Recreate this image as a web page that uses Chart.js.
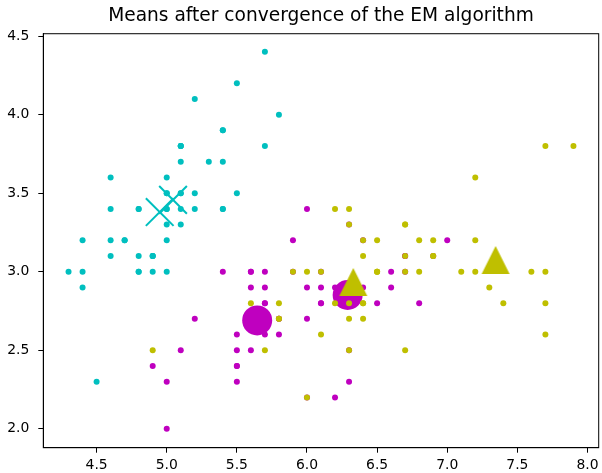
<!DOCTYPE html>
<html>
<head>
<meta charset="utf-8">
<script src="https://cdn.jsdelivr.net/npm/chart.js@4/dist/chart.umd.min.js"></script>
<style>
  html, body { margin: 0; padding: 0; background: #fff; }
  #wrap { width: 602px; height: 473px; }
</style>
</head>
<body>
<div id="wrap"><canvas id="em-means" width="602" height="473"></canvas></div>
<script>
// iris sepal length / sepal width, one pair of arrays per species
const setosaLength = [5.1,4.9,4.7,4.6,5.0,5.4,4.6,5.0,4.4,4.9,5.4,4.8,4.8,4.3,5.8,5.7,5.4,5.1,5.7,5.1,
    5.4,5.1,4.6,5.1,4.8,5.0,5.0,5.2,5.2,4.7,4.8,5.4,5.2,5.5,4.9,5.0,5.5,4.9,4.4,5.1,
    5.0,4.5,4.4,5.0,5.1,4.8,5.1,4.6,5.3,5.0];
const setosaWidth = [3.5,3.0,3.2,3.1,3.6,3.9,3.4,3.4,2.9,3.1,3.7,3.4,3.0,3.0,4.0,4.4,3.9,3.5,3.8,3.8,
    3.4,3.7,3.6,3.3,3.4,3.0,3.4,3.5,3.4,3.2,3.1,3.4,4.1,4.2,3.1,3.2,3.5,3.1,3.0,3.4,
    3.5,2.3,3.2,3.5,3.8,3.0,3.8,3.2,3.7,3.3];
const versicolorLength = [7.0,6.4,6.9,5.5,6.5,5.7,6.3,4.9,6.6,5.2,5.0,5.9,6.0,6.1,5.6,6.7,5.6,5.8,6.2,5.6,
    5.9,6.1,6.3,6.1,6.4,6.6,6.8,6.7,6.0,5.7,5.5,5.5,5.8,6.0,5.4,6.0,6.7,6.3,5.6,5.5,
    5.5,6.1,5.8,5.0,5.6,5.7,5.7,6.2,5.1,5.7];
const versicolorWidth = [3.2,3.2,3.1,2.3,2.8,2.8,3.3,2.4,2.9,2.7,2.0,3.0,2.2,2.9,2.9,3.1,3.0,2.7,2.2,2.5,
    3.2,2.8,2.5,2.8,2.9,3.0,2.8,3.0,2.9,2.6,2.4,2.4,2.7,2.7,3.0,3.4,3.1,2.3,3.0,2.5,
    2.6,3.0,2.6,2.3,2.7,3.0,2.9,2.9,2.5,2.8];
const virginicaLength = [6.3,5.8,7.1,6.3,6.5,7.6,4.9,7.3,6.7,7.2,6.5,6.4,6.8,5.7,5.8,6.4,6.5,7.7,7.7,6.0,
    6.9,5.6,7.7,6.3,6.7,7.2,6.2,6.1,6.4,7.2,7.4,7.9,6.4,6.3,6.1,7.7,6.3,6.4,6.0,6.9,
    6.7,6.9,5.8,6.8,6.7,6.7,6.3,6.5,6.2,5.9];
const virginicaWidth = [3.3,2.7,3.0,2.9,3.0,3.0,2.5,2.9,2.5,3.6,3.2,2.7,3.0,2.5,2.8,3.2,3.0,3.8,2.6,2.2,
    3.2,2.8,2.8,2.7,3.3,3.2,2.8,3.0,2.8,3.0,2.8,3.8,2.8,2.8,2.6,3.0,3.4,3.1,3.0,3.1,
    3.1,3.1,2.7,3.2,3.3,3.0,2.5,3.0,3.4,3.0];

// component means found by EM (two per component)
const meansSetosaX = [4.95, 5.045];
const meansSetosaY = [3.38, 3.457];
const meansVersicolorX = [5.645, 6.29];
const meansVersicolorY = [2.69, 2.852];
const meansVirginicaX = [6.33, 7.345];
const meansVirginicaY = [2.935, 3.075];

const xTicks = [4.5, 5.0, 5.5, 6.0, 6.5, 7.0, 7.5, 8.0];
const yTicks = [2.0, 2.5, 3.0, 3.5, 4.0, 4.5];

const CYAN = '#00bfbf';
const MAGENTA = '#bf00bf';
const YELLOW = '#bfbf00';

const toPoints = (xs, ys) => xs.map((x, i) => ({ x: x, y: ys[i] }));

// matplotlib style '^' marker (as wide as it is tall)
function triangleMarker(size, color) {
    const c = document.createElement('canvas');
    c.width = size;
    c.height = size;
    const ctx = c.getContext('2d');
    ctx.fillStyle = color;
    ctx.beginPath();
    ctx.moveTo(size / 2, 1);
    ctx.lineTo(size - 1, size - 1);
    ctx.lineTo(1, size - 1);
    ctx.closePath();
    ctx.fill();
    return c;
}

// closes the axes box on the top and right sides
const frame = {
    id: 'frame',
    afterDraw(chart) {
        const a = chart.chartArea;
        const ctx = chart.ctx;
        ctx.save();
        ctx.strokeStyle = '#000';
        ctx.lineWidth = 1;
        ctx.strokeRect(a.left, a.top, a.right - a.left, a.bottom - a.top);
        ctx.restore();
    }
};

function pointSet(xs, ys, color, order) {
    return {
        data: toPoints(xs, ys),
        backgroundColor: color,
        borderWidth: 0,
        pointRadius: 3,
        pointHoverRadius: 3,
        order: order
    };
}

function axis(ticks, fitKey, fitValue) {
    return {
        type: 'linear',
        afterBuildTicks: (scale) => { scale.ticks = ticks.map(v => ({ value: v })); },
        afterFit: (scale) => {
            scale[fitKey] = fitValue;
            // tick labels may hang past the axes box, as in matplotlib
            scale.paddingLeft = 0;
            scale.paddingRight = 0;
            scale.paddingTop = 0;
            scale.paddingBottom = 0;
        },
        grid: {
            display: true,
            drawOnChartArea: false,
            drawTicks: true,
            tickLength: 5,
            tickWidth: 1,
            color: '#000'
        },
        border: { display: true, color: '#000', width: 1 },
        ticks: {
            color: '#000',
            padding: 4,
            font: { family: 'DejaVu Sans', size: 13.9 },
            callback: (v) => Number(v).toFixed(1)
        }
    };
}

const xAxis = axis(xTicks, 'height', 25.3);
xAxis.min = 4.12;
xAxis.max = 8.08;
xAxis.position = 'bottom';
const yAxis = axis(yTicks, 'width', 43.3);
yAxis.min = 1.88;
yAxis.max = 4.515;
yAxis.position = 'left';
yAxis.ticks.padding = 9;

new Chart(document.getElementById('em-means'), {
    type: 'scatter',
    data: {
        datasets: [
            pointSet(setosaLength, setosaWidth, CYAN, 6),
            {
                data: toPoints(meansSetosaX, meansSetosaY),
                pointStyle: 'crossRot',
                pointRadius: 19.6,
                pointHoverRadius: 19.6,
                borderColor: CYAN,
                backgroundColor: CYAN,
                borderWidth: 2,
                order: 5
            },
            pointSet(versicolorLength, versicolorWidth, MAGENTA, 4),
            {
                data: toPoints(meansVersicolorX, meansVersicolorY),
                pointStyle: 'circle',
                pointRadius: 15,
                pointHoverRadius: 15,
                backgroundColor: MAGENTA,
                borderWidth: 0,
                order: 3
            },
            pointSet(virginicaLength, virginicaWidth, YELLOW, 2),
            {
                data: toPoints(meansVirginicaX, meansVirginicaY),
                pointStyle: triangleMarker(30, YELLOW),
                pointRadius: 15,
                pointHoverRadius: 15,
                backgroundColor: YELLOW,
                borderWidth: 0,
                order: 1
            }
        ]
    },
    options: {
        responsive: false,
        devicePixelRatio: 1,
        animation: false,
        events: [],
        layout: { autoPadding: false, padding: { left: 0, right: 3.3, top: 0, bottom: 0 } },
        plugins: {
            legend: { display: false },
            tooltip: { enabled: false },
            title: {
                display: true,
                fullSize: false,
                text: 'Means after convergence of the EM algorithm',
                color: '#000',
                font: { family: 'DejaVu Sans', size: 18.6, weight: 'normal', lineHeight: 1.2 },
                padding: { top: 5.5, bottom: 5.9 }
            }
        },
        scales: { x: xAxis, y: yAxis }
    },
    plugins: [frame]
});
</script>
</body>
</html>
